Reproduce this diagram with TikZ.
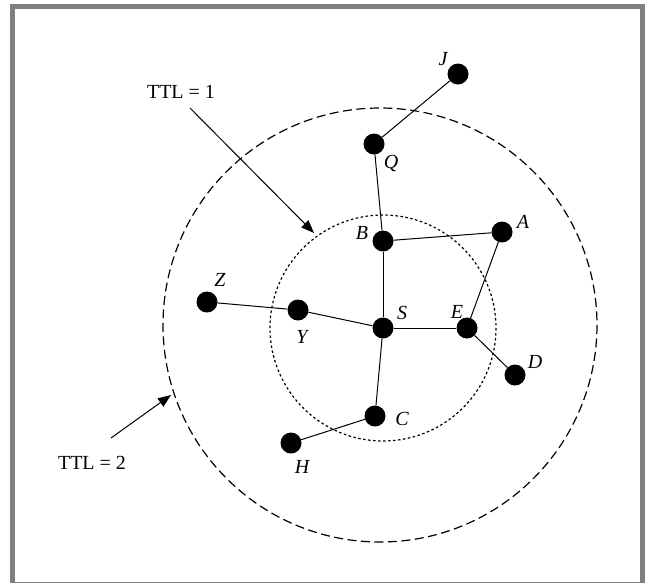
\documentclass[tikz,border=0pt]{standalone}
\usepackage{fontspec}
\setmainfont{Liberation Serif}
\usetikzlibrary{arrows.meta}
\begin{document}
\begin{tikzpicture}[x=1pt,y=-1pt,
  dot/.style={circle,fill=black,minimum size=21pt,inner sep=0pt},
  lab/.style={font=\fontsize{20}{23}\selectfont\itshape,inner sep=0pt},
  ttl/.style={font=\fontsize{20}{23}\selectfont,inner sep=0pt},
  edge/.style={line width=1pt},
  pointer/.style={line width=1pt,-{Triangle[length=13pt,width=10pt]}}]
\useasboundingbox (0,0) rectangle (645,582);
\draw[line width=5pt,color={rgb,255:red,128;green,128;blue,128}] (12.5,6.5) rectangle (642.5,584);
% circles
\draw[line width=1.2pt,dash pattern=on 9pt off 4.5pt] (380,325) circle (217);
\draw[line width=1.2pt,dash pattern=on 2.5pt off 2.5pt] (383,328) circle (113);
% nodes
\node[dot] (J) at (458,74) {};
\node[dot] (Q) at (374,144) {};
\node[dot] (B) at (383,241) {};
\node[dot] (A) at (502,232) {};
\node[dot] (S) at (383,328) {};
\node[dot] (E) at (467,328) {};
\node[dot] (D) at (515,375) {};
\node[dot] (Y) at (298,310) {};
\node[dot] (Z) at (207,302) {};
\node[dot] (C) at (375,416) {};
\node[dot] (H) at (291,443) {};
% labels
\node[lab] (lJ) at (443,59) {J};
\node[lab] (lQ) at (391,163) {Q};
\node[lab] (lB) at (362,233) {B};
\node[lab] (lA) at (523,222) {A};
\node[lab] (lS) at (402,313) {S};
\node[lab] (lE) at (457,312) {E};
\node[lab] (lD) at (535,362) {D};
\node[lab] (lY) at (302,337) {Y};
\node[lab] (lZ) at (220,280) {Z};
\node[lab] (lC) at (402,419) {C};
\node[lab] (lH) at (302,467) {H};
% edges
\draw[edge] (J) -- (Q);
\draw[edge] (Q) -- (B);
\draw[edge] (B) -- (A);
\draw[edge] (B) -- (S);
\draw[edge] (A) -- (E);
\draw[edge] (S) -- (E);
\draw[edge] (E) -- (D);
\draw[edge] (S) -- (Y);
\draw[edge] (Y) -- (Z);
\draw[edge] (S) -- (C);
\draw[edge] (C) -- (H);
% TTL annotations
\node[ttl] (t1) at (181,92) {TTL = 1};
\coordinate (t1s) at (190,108);
\coordinate (t1e) at (314,233);
\draw[pointer] (t1s) -- (t1e);
\node[ttl] (t2) at (92,463) {TTL = 2};
\coordinate (t2s) at (111,438);
\coordinate (t2e) at (171,395);
\draw[pointer] (t2s) -- (t2e);
\end{tikzpicture}
\end{document}
